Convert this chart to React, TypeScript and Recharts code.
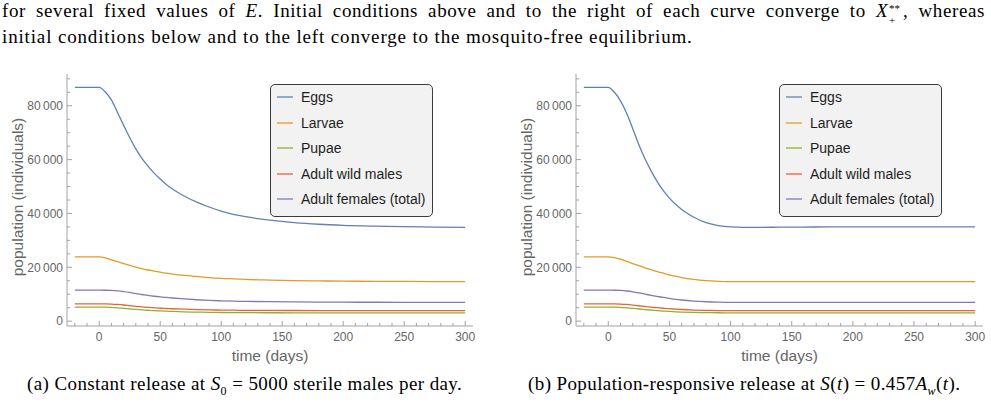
import React from 'react';
import { LineChart, Line, XAxis, YAxis, Legend } from 'recharts';

// time (days)
const TIMES = [-20, 0, 5, 10, 15, 20, 25, 30, 35, 40, 45, 50, 55, 60, 70, 80, 90, 100, 110, 120, 140, 160, 180, 200, 225, 250, 275, 300];

// (a) constant release
const EGGS_A = [86800, 86800, 85100, 82200, 77500, 72800, 68200, 64000, 60500, 57600, 55000, 52800, 50800, 49100, 46400, 44200, 42400, 40900, 39700, 38800, 37500, 36600, 36000, 35600, 35300, 35100, 34900, 34800];
const LARVAE_A = [23900, 23900, 23500, 22800, 22100, 21400, 20700, 20100, 19500, 19000, 18600, 18200, 17800, 17500, 17000, 16600, 16200, 15900, 15700, 15500, 15250, 15050, 14950, 14850, 14800, 14750, 14700, 14700];
const PUPAE_A = [5200, 5200, 5180, 5100, 4950, 4750, 4550, 4350, 4200, 4050, 3900, 3800, 3700, 3600, 3450, 3350, 3280, 3220, 3180, 3150, 3120, 3100, 3100, 3090, 3090, 3080, 3080, 3080];
const MALES_A = [6400, 6400, 6400, 6350, 6200, 6000, 5750, 5500, 5300, 5100, 4950, 4800, 4700, 4600, 4450, 4300, 4200, 4120, 4060, 4020, 3970, 3950, 3930, 3920, 3910, 3900, 3900, 3900];
const FEMALES_A = [11500, 11500, 11480, 11400, 11250, 11000, 10650, 10250, 9900, 9550, 9250, 9000, 8800, 8600, 8250, 7950, 7720, 7550, 7430, 7350, 7220, 7140, 7080, 7040, 7020, 7000, 7000, 7000];

// (b) population-responsive release
const EGGS_B = [86800, 86800, 85000, 81800, 77200, 71500, 65500, 60300, 55800, 51800, 48500, 45700, 43400, 41500, 38600, 36600, 35500, 35000, 34850, 34850, 34900, 34950, 35000, 35000, 35000, 35000, 35000, 35000];
const LARVAE_B = [23900, 23900, 23600, 23000, 22200, 21400, 20600, 19800, 19100, 18400, 17800, 17200, 16700, 16200, 15500, 15050, 14800, 14700, 14650, 14650, 14650, 14650, 14650, 14650, 14650, 14650, 14650, 14650];
const PUPAE_B = [5200, 5200, 5180, 5100, 4950, 4750, 4520, 4300, 4100, 3920, 3750, 3600, 3480, 3380, 3240, 3170, 3130, 3100, 3100, 3100, 3100, 3100, 3100, 3100, 3100, 3100, 3100, 3100];
const MALES_B = [6400, 6400, 6400, 6350, 6200, 5980, 5720, 5450, 5200, 5000, 4800, 4620, 4460, 4320, 4120, 4000, 3940, 3910, 3900, 3900, 3900, 3900, 3900, 3900, 3900, 3900, 3900, 3900];
const FEMALES_B = [11500, 11500, 11480, 11400, 11200, 10900, 10500, 10050, 9600, 9200, 8800, 8450, 8120, 7850, 7450, 7200, 7050, 6980, 6950, 6950, 6950, 6950, 6950, 6950, 6950, 6950, 6950, 6950];

const SERIES_NAMES = ['Eggs', 'Larvae', 'Pupae', 'Adult wild males', 'Adult females (total)'];
const SERIES_COLORS = ['#5E81B5', '#E19C24', '#8FB032', '#EB6235', '#8778B3'];

const X_TICKS = [-20, -10, 0, 10, 20, 30, 40, 50, 60, 70, 80, 90, 100, 110, 120, 130, 140, 150, 160, 170, 180, 190, 200, 210, 220, 230, 240, 250, 260, 270, 280, 290, 300];
const Y_TICKS = [0, 5000, 10000, 15000, 20000, 25000, 30000, 35000, 40000, 45000, 50000, 55000, 60000, 65000, 70000, 75000, 80000, 85000, 90000];
const X_DOMAIN = [-26.4, 306.4];
const Y_DOMAIN = [-1800, 91800];

const X_TITLE = 'time (days)';
const Y_TITLE = 'population (individuals)';

const FRAME = '#a2a2a2';
const TXT = '#666666';
const SANS = '"Liberation Sans", Arial, sans-serif';
const SERIF = '"Liberation Serif", "Times New Roman", serif';

function buildRows(series: number[][]) {
  return TIMES.map((t, i) => {
    const row: any = { t };
    series.forEach((s, k) => { row['s' + k] = s[i]; });
    return row;
  });
}

const fmtY = (v: number) => (v === 0 ? '0' : `${v / 1000}\u2009000`);

const BottomTick = (props: any) => {
  const { x, y, payload } = props;
  const v = payload.value;
  const major = v % 50 === 0;
  return (
    <g>
      <line x1={x} x2={x} y1={y} y2={y - (major ? 5 : 3)} stroke={FRAME} strokeWidth={1} />
      {major && (
        <text x={x} y={y + 14.5} textAnchor="middle" fill={TXT} fontSize={12} fontFamily={SANS}>{v}</text>
      )}
    </g>
  );
};
const TopTick = (props: any) => {
  const { x, y, payload } = props;
  const major = payload.value % 50 === 0;
  return <line x1={x} x2={x} y1={y} y2={y + (major ? 5 : 3)} stroke={FRAME} strokeWidth={1} />;
};
const LeftTick = (props: any) => {
  const { x, y, payload } = props;
  const v = payload.value;
  const major = v % 20000 === 0;
  return (
    <g>
      <line x1={x} x2={x + (major ? 5 : 3)} y1={y} y2={y} stroke={FRAME} strokeWidth={1} />
      {major && (
        <text x={x - 4} y={y + 4.3} textAnchor="end" fill={TXT} fontSize={12} fontFamily={SANS}>{fmtY(v)}</text>
      )}
    </g>
  );
};
const RightTick = (props: any) => {
  const { x, y, payload } = props;
  const major = payload.value % 20000 === 0;
  return <line x1={x} x2={x - (major ? 5 : 3)} y1={y} y2={y} stroke={FRAME} strokeWidth={1} />;
};

const XTitle = (props: any) => {
  const vb = props.viewBox || {};
  return (
    <text x={vb.x + vb.width / 2} y={vb.y + 35} textAnchor="middle" fill={TXT} fontSize={15.5} fontFamily={SANS}>{X_TITLE}</text>
  );
};
const YTitle = (props: any) => {
  const vb = props.viewBox || {};
  const cx = vb.x + vb.width - 50;
  const cy = vb.y + vb.height / 2 - 3;
  return (
    <text x={cx} y={cy} transform={`rotate(-90 ${cx} ${cy})`} textAnchor="middle" dominantBaseline="central" fill={TXT} fontSize={15.5} fontFamily={SANS}>{Y_TITLE}</text>
  );
};

const LegendBox = () => (
  <div style={{ position: 'relative', width: 163, height: 133, boxSizing: 'border-box', background: '#f2f2f2', border: '1px solid #3c3c3c', borderRadius: 5 }}>
    {SERIES_NAMES.map((name, i) => (
      <div key={name} style={{ position: 'absolute', left: 6, top: 13 - 1 + i * 25.5 - 8, height: 16, display: 'flex', alignItems: 'center', whiteSpace: 'nowrap' }}>
        <svg width={16} height={4} style={{ marginRight: 8, display: 'block' }}>
          <line x1={0} x2={16} y1={2} y2={2} stroke={SERIES_COLORS[i]} strokeWidth={1.3} />
        </svg>
        <span style={{ fontFamily: SANS, fontSize: 14, color: '#1e1e1e', lineHeight: '16px' }}>{name}</span>
      </div>
    ))}
  </div>
);

function Panel({ series, left, width, rightMargin }: { series: number[][]; left: number; width: number; rightMargin: number }) {
  const rows = buildRows(series);
  return (
    <div style={{ position: 'absolute', left, top: 60, width, height: 310 }}>
      <LineChart width={width} height={310} data={rows} margin={{ top: 14, right: rightMargin, bottom: 0, left: 0 }}>
        <XAxis dataKey="t" type="number" domain={X_DOMAIN} ticks={X_TICKS} interval={0} allowDataOverflow
          height={44} tickSize={0} tickMargin={0} tick={<BottomTick />} axisLine={{ stroke: FRAME, strokeWidth: 1 }} tickLine={false}
          label={<XTitle />} />
        <XAxis xAxisId="top" orientation="top" dataKey="t" type="number" domain={X_DOMAIN} ticks={X_TICKS} interval={0} allowDataOverflow
          height={0} tickSize={0} tickMargin={0} tick={<TopTick />} axisLine={{ stroke: FRAME, strokeWidth: 1 }} tickLine={false} />
        <YAxis type="number" domain={Y_DOMAIN} ticks={Y_TICKS} interval={0} allowDataOverflow width={67}
          tickSize={0} tickMargin={0} tick={<LeftTick />} axisLine={{ stroke: FRAME, strokeWidth: 1 }} tickLine={false}
          label={<YTitle />} />
        <YAxis yAxisId="right" orientation="right" type="number" domain={Y_DOMAIN} ticks={Y_TICKS} interval={0} allowDataOverflow width={0}
          tickSize={0} tickMargin={0} tick={<RightTick />} axisLine={{ stroke: FRAME, strokeWidth: 1 }} tickLine={false} />
        {SERIES_NAMES.map((name, k) => (
          <Line key={name} dataKey={'s' + k} name={name} stroke={SERIES_COLORS[k]} strokeWidth={1.3} dot={false}
            type="monotone" isAnimationActive={false} />
        ))}
        <Legend layout="vertical" align="center" verticalAlign="middle" content={<LegendBox />}
          wrapperStyle={{ left: 270, top: 24, width: 163, height: 133 }} />
      </LineChart>
    </div>
  );
}

export default function App() {
  return (
    <div style={{ position: 'absolute', left: 0, top: 0, width: 991, height: 404, background: '#ffffff', overflow: 'hidden', fontFamily: SERIF, color: '#000' }}>
      <div style={{ position: 'absolute', left: 2, top: 1, width: 983, fontSize: 19, lineHeight: '20px', whiteSpace: 'nowrap', letterSpacing: 0.6, textAlign: 'justify', textAlignLast: 'justify' as any }}>
        for several fixed values of <i>E</i>. Initial conditions above and to the right of each curve converge to <i>X</i>
        <span style={{ position: 'relative', display: 'inline-block', width: 15, height: 14 }}>
          <span style={{ position: 'absolute', left: 1, top: -5, fontSize: 11, letterSpacing: 0 }}>**</span>
          <span style={{ position: 'absolute', left: 1, top: 7, fontSize: 11, letterSpacing: 0 }}>+</span>
        </span>, whereas
      </div>
      <div style={{ position: 'absolute', left: 2, top: 27, fontSize: 19, lineHeight: '20px', whiteSpace: 'nowrap', letterSpacing: 0.85 }}>
        initial conditions below and to the left converge to the mosquito-free equilibrium.
      </div>

      <Panel series={[EGGS_A, LARVAE_A, PUPAE_A, MALES_A, FEMALES_A]} left={0} width={490} rightMargin={17} />
      <Panel series={[EGGS_B, LARVAE_B, PUPAE_B, MALES_B, FEMALES_B]} left={509} width={482} rightMargin={8} />

      <div style={{ position: 'absolute', left: 27, top: 374, fontSize: 19, lineHeight: '20px', whiteSpace: 'nowrap', letterSpacing: 0.4 }}>
        (a) Constant release at <i>S</i><sub style={{ fontSize: 12, lineHeight: 0 }}>0</sub> = 5000 sterile males per day.
      </div>
      <div style={{ position: 'absolute', left: 528, top: 374, fontSize: 19, lineHeight: '20px', whiteSpace: 'nowrap', letterSpacing: 0.4 }}>
        (b) Population-responsive release at <i>S</i>(<i>t</i>) = 0.457<i>A</i><sub style={{ fontSize: 12, lineHeight: 0 }}><i>w</i></sub>(<i>t</i>).
      </div>
    </div>
  );
}
